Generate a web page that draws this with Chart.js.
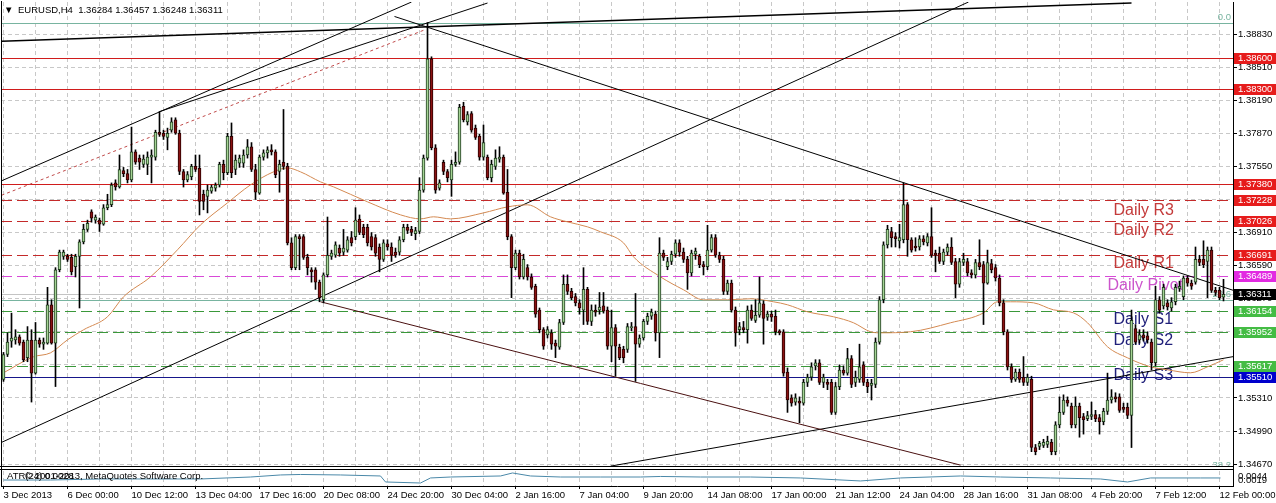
<!DOCTYPE html>
<html><head><meta charset="utf-8">
<script src="https://cdn.jsdelivr.net/npm/chart.js@4.4.1/dist/chart.umd.min.js"></script>
<style>html,body{margin:0;padding:0;background:#fff;overflow:hidden}canvas{display:block}</style>
</head><body>
<canvas id="c" width="1276" height="503"></canvas>
<script>
// ---------- DATA ----------
const symbol = 'EURUSD,H4';
const dateLabels = ['3 Dec 2013','6 Dec 00:00','10 Dec 12:00','13 Dec 04:00','17 Dec 16:00','20 Dec 08:00','24 Dec 20:00','30 Dec 04:00','2 Jan 16:00','7 Jan 04:00','9 Jan 20:00','14 Jan 08:00','17 Jan 00:00','21 Jan 12:00','24 Jan 04:00','28 Jan 16:00','31 Jan 08:00','4 Feb 20:00','7 Feb 12:00','12 Feb 00:00'];
const yTicks = [1.38830,1.38510,1.38190,1.37870,1.37550,1.37230,1.36910,1.36590,1.36270,1.35950,1.35630,1.35310,1.34990,1.34670];
// [open, high, low, close] per H4 bar
const ohlc = [
[1.3549,1.3575,1.3547,1.3573],[1.3573,1.3594,1.3571,1.3585],[1.3586,1.3613,1.3580,1.3589],[1.3587,1.3597,1.3583,1.3590],[1.3590,1.3592,1.3582,1.3584],
[1.3585,1.3587,1.3566,1.3568],[1.3570,1.3600,1.3566,1.3587],[1.3587,1.3597,1.3527,1.3555],[1.3555,1.3604,1.3554,1.3587],[1.3587,1.3589,1.3580,1.3583],
[1.3583,1.3589,1.3578,1.3585],[1.3584,1.3638,1.3583,1.3621],[1.3621,1.3626,1.3583,1.3584],[1.3584,1.3657,1.3542,1.3655],[1.3655,1.3674,1.3653,1.3672],
[1.3668,1.3674,1.3665,1.3672],[1.3668,1.3670,1.3663,1.3665],[1.3667,1.3670,1.3650,1.3653],[1.3658,1.3670,1.3648,1.3668],[1.3668,1.3684,1.3618,1.3682],
[1.3682,1.3699,1.3680,1.3694],[1.3694,1.3703,1.3692,1.3700],[1.3711,1.3713,1.3701,1.3705],[1.3703,1.3708,1.3700,1.3706],[1.3703,1.3705,1.3692,1.3699],
[1.3699,1.3718,1.3698,1.3715],[1.3715,1.3728,1.3713,1.3718],[1.3718,1.3739,1.3716,1.3737],[1.3739,1.3742,1.3732,1.3735],[1.3735,1.3766,1.3734,1.3752],
[1.3751,1.3754,1.3745,1.3748],[1.3748,1.3752,1.3739,1.3742],[1.3742,1.3793,1.3740,1.3769],[1.3769,1.3771,1.3757,1.3759],[1.3763,1.3766,1.3752,1.3759],
[1.3757,1.3766,1.3754,1.3762],[1.3757,1.3769,1.3747,1.3764],[1.3764,1.3771,1.3739,1.3766],[1.3764,1.3790,1.3761,1.3788],[1.3788,1.3808,1.3784,1.3786],
[1.3787,1.3790,1.3781,1.3784],[1.3783,1.3792,1.3771,1.3787],[1.3790,1.3802,1.3788,1.3798],[1.3800,1.3802,1.3786,1.3787],[1.3787,1.3790,1.3747,1.3750],
[1.3750,1.3752,1.3735,1.3742],[1.3742,1.3750,1.3740,1.3747],[1.3745,1.3757,1.3742,1.3755],[1.3755,1.3766,1.3750,1.3752],[1.3753,1.3766,1.3708,1.3721],
[1.3728,1.3732,1.3713,1.3721],[1.3726,1.3737,1.3710,1.3732],[1.3731,1.3737,1.3729,1.3735],[1.3734,1.3739,1.3731,1.3737],[1.3737,1.3759,1.3735,1.3757],
[1.3757,1.3761,1.3742,1.3749],[1.3749,1.3787,1.3747,1.3784],[1.3784,1.3797,1.3744,1.3749],[1.3752,1.3766,1.3747,1.3761],[1.3758,1.3766,1.3754,1.3763],
[1.3758,1.3771,1.3754,1.3766],[1.3766,1.3781,1.3763,1.3774],[1.3774,1.3778,1.3750,1.3752],[1.3752,1.3757,1.3723,1.3730],[1.3729,1.3766,1.3728,1.3764],
[1.3764,1.3771,1.3761,1.3768],[1.3768,1.3774,1.3763,1.3771],[1.3771,1.3776,1.3766,1.3769],[1.3769,1.3771,1.3744,1.3747],[1.3750,1.3761,1.3730,1.3757],
[1.3759,1.3810,1.3752,1.3755],[1.3755,1.3758,1.3679,1.3681],[1.3681,1.3686,1.3655,1.3657],[1.3657,1.3689,1.3655,1.3687],[1.3687,1.3689,1.3655,1.3685],
[1.3687,1.3689,1.3665,1.3667],[1.3667,1.3670,1.3650,1.3657],[1.3655,1.3657,1.3643,1.3653],[1.3655,1.3657,1.3636,1.3643],[1.3643,1.3645,1.3624,1.3628],
[1.3626,1.3652,1.3623,1.3650],[1.3650,1.3706,1.3648,1.3669],[1.3668,1.3674,1.3665,1.3671],[1.3669,1.3682,1.3667,1.3679],[1.3676,1.3679,1.3668,1.3671],
[1.3672,1.3694,1.3669,1.3676],[1.3674,1.3687,1.3672,1.3684],[1.3686,1.3692,1.3678,1.3681],[1.3687,1.3715,1.3684,1.3703],[1.3704,1.3708,1.3689,1.3691],
[1.3696,1.3699,1.3686,1.3689],[1.3696,1.3699,1.3678,1.3681],[1.3687,1.3691,1.3674,1.3677],[1.3686,1.3689,1.3668,1.3671],[1.3677,1.3680,1.3653,1.3665],
[1.3665,1.3684,1.3663,1.3681],[1.3680,1.3684,1.3674,1.3677],[1.3677,1.3681,1.3663,1.3669],[1.3672,1.3676,1.3667,1.3669],[1.3672,1.3687,1.3669,1.3684],
[1.3684,1.3699,1.3682,1.3696],[1.3696,1.3699,1.3690,1.3693],[1.3694,1.3697,1.3688,1.3691],[1.3690,1.3696,1.3684,1.3693],[1.3692,1.3744,1.3690,1.3732],
[1.3732,1.3766,1.3730,1.3763],[1.3763,1.3894,1.3761,1.3859],[1.3859,1.3861,1.3771,1.3773],[1.3773,1.3776,1.3729,1.3732],[1.3734,1.3742,1.3732,1.3739],
[1.3759,1.3761,1.3747,1.3750],[1.3750,1.3752,1.3740,1.3744],[1.3742,1.3761,1.3726,1.3757],[1.3757,1.3769,1.3755,1.3759],[1.3759,1.3815,1.3757,1.3812],
[1.3813,1.3817,1.3798,1.3800],[1.3798,1.3808,1.3795,1.3805],[1.3806,1.3808,1.3788,1.3790],[1.3792,1.3795,1.3781,1.3783],[1.3784,1.3786,1.3761,1.3764],
[1.3764,1.3795,1.3761,1.3778],[1.3764,1.3766,1.3742,1.3744],[1.3744,1.3761,1.3740,1.3757],[1.3755,1.3771,1.3752,1.3763],[1.3762,1.3774,1.3759,1.3764],
[1.3764,1.3766,1.3728,1.3729],[1.3730,1.3752,1.3684,1.3687],[1.3687,1.3689,1.3628,1.3657],[1.3657,1.3674,1.3655,1.3671],[1.3671,1.3674,1.3646,1.3648],
[1.3648,1.3670,1.3646,1.3665],[1.3657,1.3660,1.3645,1.3648],[1.3648,1.3651,1.3636,1.3638],[1.3639,1.3641,1.3609,1.3612],[1.3616,1.3618,1.3594,1.3597],
[1.3597,1.3599,1.3578,1.3581],[1.3592,1.3600,1.3589,1.3597],[1.3594,1.3597,1.3578,1.3583],[1.3584,1.3587,1.3570,1.3581],[1.3580,1.3607,1.3578,1.3604],
[1.3604,1.3650,1.3602,1.3641],[1.3641,1.3650,1.3631,1.3634],[1.3634,1.3637,1.3626,1.3628],[1.3629,1.3632,1.3620,1.3623],[1.3623,1.3626,1.3612,1.3618],
[1.3616,1.3657,1.3602,1.3636],[1.3636,1.3638,1.3602,1.3605],[1.3605,1.3621,1.3601,1.3616],[1.3616,1.3621,1.3610,1.3614],[1.3616,1.3633,1.3612,1.3619],
[1.3620,1.3633,1.3613,1.3615],[1.3616,1.3619,1.3578,1.3581],[1.3581,1.3616,1.3566,1.3599],[1.3599,1.3602,1.3552,1.3581],[1.3580,1.3583,1.3568,1.3570],
[1.3578,1.3581,1.3565,1.3570],[1.3578,1.3603,1.3575,1.3600],[1.3599,1.3604,1.3596,1.3600],[1.3600,1.3632,1.3547,1.3583],[1.3583,1.3592,1.3580,1.3589],
[1.3589,1.3607,1.3587,1.3605],[1.3605,1.3613,1.3602,1.3610],[1.3610,1.3617,1.3607,1.3614],[1.3612,1.3615,1.3586,1.3594],[1.3594,1.3686,1.3570,1.3671],
[1.3671,1.3674,1.3664,1.3667],[1.3658,1.3667,1.3655,1.3663],[1.3663,1.3673,1.3660,1.3670],[1.3670,1.3684,1.3667,1.3681],[1.3681,1.3684,1.3668,1.3672],
[1.3672,1.3676,1.3662,1.3665],[1.3665,1.3668,1.3636,1.3652],[1.3652,1.3674,1.3649,1.3671],[1.3670,1.3676,1.3665,1.3673],[1.3668,1.3670,1.3657,1.3660],
[1.3660,1.3663,1.3650,1.3658],[1.3658,1.3698,1.3655,1.3674],[1.3674,1.3689,1.3672,1.3686],[1.3686,1.3689,1.3667,1.3669],[1.3669,1.3672,1.3662,1.3665],
[1.3665,1.3668,1.3631,1.3634],[1.3634,1.3645,1.3631,1.3642],[1.3642,1.3645,1.3614,1.3616],[1.3616,1.3619,1.3581,1.3594],[1.3597,1.3604,1.3592,1.3600],
[1.3599,1.3605,1.3594,1.3597],[1.3597,1.3620,1.3584,1.3616],[1.3616,1.3621,1.3606,1.3608],[1.3606,1.3626,1.3604,1.3611],[1.3611,1.3648,1.3609,1.3623],
[1.3622,1.3625,1.3583,1.3608],[1.3609,1.3615,1.3606,1.3612],[1.3612,1.3615,1.3605,1.3609],[1.3610,1.3616,1.3592,1.3595],[1.3596,1.3597,1.3592,1.3594],
[1.3595,1.3597,1.3552,1.3555],[1.3556,1.3560,1.3517,1.3529],[1.3531,1.3534,1.3523,1.3526],[1.3527,1.3535,1.3524,1.3531],[1.3528,1.3532,1.3507,1.3526],
[1.3526,1.3549,1.3524,1.3546],[1.3546,1.3554,1.3542,1.3551],[1.3551,1.3565,1.3548,1.3561],[1.3562,1.3568,1.3558,1.3565],[1.3565,1.3568,1.3544,1.3546],
[1.3546,1.3554,1.3541,1.3551],[1.3546,1.3549,1.3539,1.3544],[1.3546,1.3549,1.3515,1.3517],[1.3517,1.3546,1.3515,1.3542],[1.3542,1.3563,1.3539,1.3558],
[1.3558,1.3562,1.3553,1.3555],[1.3555,1.3579,1.3553,1.3569],[1.3569,1.3572,1.3541,1.3544],[1.3546,1.3557,1.3542,1.3551],[1.3549,1.3583,1.3546,1.3561],
[1.3563,1.3566,1.3543,1.3546],[1.3546,1.3549,1.3536,1.3542],[1.3543,1.3549,1.3529,1.3545],[1.3544,1.3589,1.3541,1.3585],[1.3585,1.3629,1.3583,1.3626],
[1.3626,1.3682,1.3623,1.3679],[1.3679,1.3698,1.3676,1.3694],[1.3692,1.3696,1.3677,1.3686],[1.3687,1.3691,1.3677,1.3685],[1.3683,1.3699,1.3676,1.3686],
[1.3684,1.3739,1.3681,1.3718],[1.3718,1.3720,1.3668,1.3684],[1.3684,1.3686,1.3672,1.3674],[1.3678,1.3686,1.3673,1.3676],[1.3677,1.3688,1.3674,1.3685],
[1.3685,1.3688,1.3679,1.3682],[1.3681,1.3690,1.3678,1.3687],[1.3687,1.3715,1.3667,1.3669],[1.3671,1.3674,1.3653,1.3669],[1.3671,1.3677,1.3661,1.3663],
[1.3663,1.3675,1.3660,1.3672],[1.3672,1.3680,1.3669,1.3677],[1.3677,1.3686,1.3660,1.3662],[1.3663,1.3666,1.3628,1.3641],[1.3641,1.3666,1.3638,1.3663],
[1.3662,1.3671,1.3659,1.3665],[1.3663,1.3666,1.3649,1.3652],[1.3652,1.3655,1.3647,1.3650],[1.3650,1.3665,1.3647,1.3662],[1.3662,1.3684,1.3655,1.3658],
[1.3660,1.3663,1.3602,1.3642],[1.3642,1.3674,1.3641,1.3662],[1.3661,1.3665,1.3652,1.3655],[1.3657,1.3660,1.3644,1.3647],[1.3647,1.3650,1.3620,1.3623],
[1.3623,1.3626,1.3592,1.3595],[1.3595,1.3597,1.3558,1.3561],[1.3561,1.3564,1.3546,1.3549],[1.3549,1.3559,1.3547,1.3556],[1.3556,1.3559,1.3546,1.3549],
[1.3551,1.3571,1.3543,1.3546],[1.3546,1.3554,1.3543,1.3551],[1.3549,1.3552,1.3479,1.3483],[1.3483,1.3486,1.3476,1.3479],[1.3484,1.3489,1.3481,1.3487],
[1.3485,1.3491,1.3483,1.3488],[1.3486,1.3494,1.3483,1.3489],[1.3488,1.3491,1.3476,1.3479],[1.3479,1.3508,1.3476,1.3505],[1.3505,1.3532,1.3502,1.3517],
[1.3517,1.3534,1.3515,1.3529],[1.3529,1.3532,1.3523,1.3526],[1.3523,1.3526,1.3502,1.3505],[1.3505,1.3532,1.3502,1.3523],[1.3523,1.3526,1.3493,1.3512],
[1.3513,1.3516,1.3496,1.3510],[1.3511,1.3518,1.3509,1.3514],[1.3513,1.3527,1.3510,1.3515],[1.3515,1.3519,1.3508,1.3511],[1.3512,1.3515,1.3496,1.3508],
[1.3508,1.3521,1.3505,1.3518],[1.3518,1.3555,1.3515,1.3529],[1.3529,1.3539,1.3526,1.3532],[1.3532,1.3536,1.3527,1.3530],[1.3532,1.3535,1.3517,1.3519],
[1.3522,1.3526,1.3517,1.3520],[1.3522,1.3526,1.3511,1.3514],[1.3514,1.3616,1.3483,1.3606],[1.3598,1.3602,1.3583,1.3585],[1.3587,1.3597,1.3584,1.3592],
[1.3592,1.3597,1.3586,1.3589],[1.3591,1.3595,1.3584,1.3587],[1.3585,1.3588,1.3558,1.3565],[1.3565,1.3639,1.3562,1.3626],[1.3626,1.3629,1.3613,1.3616],
[1.3620,1.3641,1.3617,1.3638],[1.3623,1.3626,1.3616,1.3619],[1.3618,1.3628,1.3615,1.3624],[1.3624,1.3641,1.3621,1.3638],[1.3637,1.3644,1.3634,1.3639],
[1.3629,1.3649,1.3626,1.3647],[1.3647,1.3649,1.3639,1.3642],[1.3642,1.3645,1.3636,1.3639],[1.3643,1.3677,1.3641,1.3665],[1.3665,1.3669,1.3659,1.3662],
[1.3665,1.3683,1.3657,1.3660],[1.3663,1.3677,1.3628,1.3674],[1.3674,1.3677,1.3633,1.3635],[1.3635,1.3638,1.3630,1.3633],[1.3635,1.3638,1.3626,1.3628],
[1.36284,1.36457,1.36248,1.36311]
];
// moving average [bar, price]
const maPoints = [[1,1.35553],[8.5,1.35708],[12.75,1.35746],[17,1.35872],[21,1.35969],[27,1.36095],[31,1.36288],[37.75,1.36481],[44.5,1.36743],[50.25,1.36984],[57,1.37197],[62.75,1.37371],[68.5,1.37497],[72,1.37535],[75.25,1.37497],[80.25,1.37400],[83.5,1.37352],[92,1.37207],[100.25,1.37081],[105.25,1.37042],[108.5,1.37062],[112.75,1.37042],[121,1.37100],[127,1.37158],[132,1.37178],[137.75,1.37062],[142,1.37013],[147,1.36965],[150.25,1.36917],[156,1.36810],[158.5,1.36675],[165.25,1.36481],[171,1.36356],[176,1.36259],[182,1.36259],[187.75,1.36269],[193.5,1.36240],[197,1.36211],[202,1.36143],[208.5,1.36095],[213.5,1.36037],[217.75,1.35950],[220.25,1.35940],[227.75,1.35950],[237.75,1.36037],[246,1.36133],[249.5,1.36240],[252.75,1.36240],[258.5,1.36230],[263.5,1.36162],[268.5,1.36133],[272,1.36037],[277,1.35805],[282,1.35698],[287.75,1.35611],[292,1.35582],[297.75,1.35553],[302,1.35611],[306,1.35679]];
// ATR(24) sub-window [bar, value]
const atrPoints = [[1,0.00273],[12.75,0.00273],[25.25,0.0029],[37.75,0.0029],[50.25,0.0029],[62.75,0.00323],[70.25,0.00357],[75.25,0.00365],[85.25,0.00357],[95.25,0.0034],[96.5,0.0024],[105.25,0.00223],[107.75,0.00307],[112.75,0.00323],[125.25,0.0034],[128.25,0.0039],[132.75,0.0034],[140.25,0.00323],[150.25,0.00323],[160.25,0.00323],[165.25,0.00332],[175.25,0.00323],[187.75,0.00323],[200.25,0.00307],[215.25,0.00257],[225.25,0.00307],[240.25,0.0034],[250.25,0.00323],[262.75,0.00307],[275.25,0.0029],[282,0.0024],[287.75,0.00307],[300.25,0.00307],[305.25,0.00307]];
const atrScaleLabels = ['0.0044','0.0019'];
const atrText = 'ATR(24) 0.0028';
// horizontal levels
const levelPrices = [1.38600,1.38300,1.37380,1.37228,1.37026,1.36691,1.36489,1.36154,1.35952,1.35617,1.35510];
const levelKinds  = ['hr','hr','hr','r','r','r','p','s','s','s','hb'];
const fibNames  = ['0.0','23.6','38.2'];
const fibPrices = [1.3894,1.3626,1.3460];
const dailyTexts = ['Daily R3','Daily R2','Daily R1','Daily Pivot','Daily S1','Daily S2','Daily S3'];
const dailyKinds = ['r','r','r','p','s','s','s'];
const dailyBars = [278.5,278.5,278.5,277,278.5,278.5,278.5];
const dailyPrices = [1.3712,1.3693,1.3661,1.3640,1.3607,1.3586,1.3553];
// trend lines: [[bar, price],[bar, price]]
const trendLines = [
  [[0.5,1.3741],[103,1.3914]],
  [[40,1.3808],[122,1.3913]],
  [[0.5,1.3876],[283,1.3913]],
  [[0.5,1.3488],[242.25,1.3914]],
  [[98.75,1.3900],[308.5,1.3635]],
  [[80.25,1.3624],[240.25,1.3466]],
  [[152.75,1.3465],[308.5,1.3571]]
];
const trendKinds = ['k','k','k2','k','k','m','k'];
const dottedLine = [[0.5,1.3727],[106.25,1.3887]];

// ---------- RANGES ----------
const X_MIN = 0.375, X_MAX = 308.375;
const Y_MAX = 1.3914, Y_MIN = 1.34458, MAIN_BOTTOM = 1.346416;
const ATR_MIN = 0.00173, ATR_MAX = 0.0824;

// ---------- STYLES ----------
const FONT = "'Liberation Sans', Arial, sans-serif";
Chart.defaults.font.family = FONT;
Chart.defaults.font.size = 9.5;
Chart.defaults.color = '#000';
const BULL = '#a4d494', BULL_EDGE = '#1e3a1e', BEAR = '#8a1212', BEAR_EDGE = '#2a0000';
const LEVEL_STYLE = {
  hr: {c:'#d01c1c', dash:[], box:'#e61c1c'},
  r:  {c:'#c42a2a', dash:[11,5], box:'#e61c1c'},
  p:  {c:'#d84ad8', dash:[11,5], box:'#e22ae2'},
  s:  {c:'#3a983a', dash:[11,5], box:'#44bc44'},
  hb: {c:'#16168a', dash:[], box:'#0000cc'}
};
const TEXT_COL = {r:'#c43a3a', p:'#cc55cc', s:'#20207a'};
const TREND_COL = {k:'#000000', k2:'#000000', m:'#4a1010'};
const FIB_COL = '#78b4a0';

const last = ohlc[ohlc.length - 1];
const bidPrice = last[3];

// ---------- DATASETS ----------
const bodyData = ohlc.map((b, i) => ({x: i + 1, y: [Math.min(b[0], b[3]), Math.max(b[0], b[3])]}));
const wickData = ohlc.map((b, i) => ({x: i + 1, y: [Math.min(b[2], b[0], b[3]), Math.max(b[1], b[0], b[3])]}));
const isBull = ohlc.map(b => b[3] >= b[0]);

const datasets = [
  {type:'bar', data: bodyData, backgroundColor: isBull.map(u => u ? BULL : BEAR), borderColor: isBull.map(u => u ? BULL_EDGE : BEAR_EDGE),
   borderWidth: 1, borderSkipped: false, barThickness: 3, grouped: false, order: 0},
  {type:'bar', data: wickData, backgroundColor: '#000', borderWidth: 0, barThickness: 1, grouped: false, order: 1},
  {type:'line', data: maPoints.map(p => ({x:p[0], y:p[1]})), borderColor:'#d48a52', borderWidth:1, pointRadius:0, cubicInterpolationMode:'monotone', order: 2},
  ...trendLines.map((l, i) => ({type:'line', data: l.map(p => ({x:p[0], y:p[1]})), borderColor: TREND_COL[trendKinds[i]],
     borderWidth: trendKinds[i] === 'k2' ? 1.4 : 1, pointRadius: 0, order: 3})),
  {type:'line', data: dottedLine.map(p => ({x:p[0], y:p[1]})), borderColor:'#c04a4a', borderWidth:1, borderDash:[3,3], pointRadius:0, order: 3},
  {type:'line', yAxisID:'yAtr', data: atrPoints.map(p => ({x:p[0], y:p[1]})), borderColor:'#4a88a8', borderWidth:1, pointRadius:0, order: 4}
];

// ---------- PLUGIN (levels, texts, frame, labels) ----------
const mtPlugin = {
  id: 'mt',
  beforeDatasetsDraw(chart) {
    const {ctx, chartArea: a, scales: {x, y}} = chart;
    const mb = Math.round(y.getPixelForValue(MAIN_BOTTOM));
    ctx.save();
    ctx.beginPath(); ctx.rect(a.left, a.top, a.right - a.left, mb - a.top); ctx.clip();
    const hline = (p, col, dash) => {
      const py = Math.round(y.getPixelForValue(p)) + 0.5;
      ctx.strokeStyle = col; ctx.lineWidth = 1; ctx.setLineDash(dash);
      ctx.beginPath(); ctx.moveTo(a.left, py); ctx.lineTo(a.right, py); ctx.stroke();
    };
    fibPrices.forEach(p => hline(p, FIB_COL, []));
    hline(bidPrice, '#c4c4c4', []);
    levelPrices.forEach((p, i) => { const s = LEVEL_STYLE[levelKinds[i]]; hline(p, s.c, s.dash); });
    ctx.setLineDash([]);
    ctx.font = '16px ' + FONT; ctx.textBaseline = 'middle'; ctx.textAlign = 'left';
    dailyTexts.forEach((t, i) => {
      ctx.fillStyle = TEXT_COL[dailyKinds[i]];
      ctx.fillText(t, x.getPixelForValue(dailyBars[i]), y.getPixelForValue(dailyPrices[i]));
    });
    ctx.font = '9.5px ' + FONT; ctx.textAlign = 'right'; ctx.textBaseline = 'bottom'; ctx.fillStyle = FIB_COL;
    fibNames.forEach((n, i) => ctx.fillText(n, a.right - 2, y.getPixelForValue(fibPrices[i]) - 1));
    ctx.restore();
  },
  afterDraw(chart) {
    const {ctx, chartArea: a, scales: {y, yAtr}} = chart;
    const mb = Math.round(y.getPixelForValue(MAIN_BOTTOM));
    ctx.save();
    // window separators and frame
    ctx.fillStyle = '#fff'; ctx.fillRect(0, mb, a.right, 2);
    ctx.fillStyle = '#000';
    ctx.fillRect(0, mb - 1, a.right, 1);
    ctx.fillRect(0, mb + 2, a.right, 1);
    ctx.fillRect(a.left, a.top - 1, 1, a.bottom - a.top + 1);
    // price labels on the axis
    ctx.font = '9.5px ' + FONT; ctx.textAlign = 'left'; ctx.textBaseline = 'middle';
    const box = (p, bg) => {
      const py = Math.round(y.getPixelForValue(p));
      ctx.fillStyle = bg; ctx.fillRect(a.right + 1, py - 5, 42, 11);
      ctx.fillStyle = '#fff'; ctx.fillText(p.toFixed(5), a.right + 5, py + 0.5);
    };
    levelPrices.forEach((p, i) => box(p, LEVEL_STYLE[levelKinds[i]].box));
    box(bidPrice, '#000');
    // ATR scale labels and caption
    ctx.fillStyle = '#000';
    ctx.fillText(atrScaleLabels[0], a.right + 5, yAtr.getPixelForValue(0.0044) + 6.5);
    ctx.fillText(atrScaleLabels[1], a.right + 5, yAtr.getPixelForValue(0.0019) - 5);
    ctx.fillText(atrText, a.left + 6, mb + 9);
    ctx.fillText('\u00A9 2001-2013, MetaQuotes Software Corp.', a.left + 24, mb + 9);
    // header
    ctx.fillText('\u25BC', a.left + 3, 10);
    ctx.fillText(symbol + '  ' + last.map(v => v.toFixed(5)).join(' '), a.left + 17, 10);
    ctx.restore();
  }
};

new Chart(document.getElementById('c'), {
  type: 'bar',
  data: {datasets},
  plugins: [mtPlugin],
  options: {
    responsive: false, animation: false, devicePixelRatio: 1,
    layout: {padding: {top: 2, left: 1, right: 0, bottom: 0}},
    plugins: {legend: {display: false}, tooltip: {enabled: false}},
    scales: {
      x: {
        type: 'linear', min: X_MIN, max: X_MAX, offset: false,
        afterBuildTicks: s => { s.ticks = Array.from({length: 39}, (_, k) => ({value: 1 + 8 * k})); },
        afterFit: s => { s.height = 17; s.paddingLeft = 0; s.paddingRight = 0; },
        ticks: {autoSkip: false, maxRotation: 0, minRotation: 0, align: 'start', padding: 1,
          callback: (v, k) => (k % 2 === 0 ? dateLabels[k / 2] : '')},
        grid: {offset: false, color: '#c8c8c8', tickLength: 3,
          tickColor: c => (c.index % 2 === 0 ? '#000' : 'rgba(0,0,0,0)')},
        border: {display: true, color: '#000', dash: [4, 3]}
      },
      y: {
        type: 'linear', position: 'right', min: Y_MIN, max: Y_MAX,
        afterBuildTicks: s => { s.ticks = yTicks.map(v => ({value: v})); },
        afterFit: s => { s.width = 43; s.paddingTop = 0; s.paddingBottom = 0; },
        ticks: {autoSkip: false, padding: 1, callback: v => v.toFixed(5)},
        grid: {color: '#c8c8c8', tickLength: 4, tickColor: '#000'},
        border: {display: true, color: '#000', dash: [4, 3]}
      },
      yAtr: {type: 'linear', position: 'right', display: false, min: ATR_MIN, max: ATR_MAX}
    }
  }
});
</script></body></html>
